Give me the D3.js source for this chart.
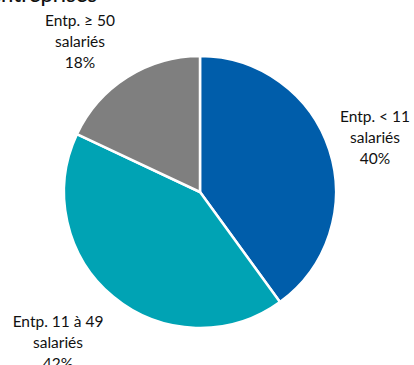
<!DOCTYPE html>
<html>
<head>
<meta charset="utf-8">
<script src="https://cdn.jsdelivr.net/npm/d3@7/dist/d3.min.js"></script>
<style>
  html, body { margin: 0; padding: 0; background: #fff; overflow: hidden; }
  svg { display: block; }
  text { font-family: Lato, "Open Sans", sans-serif; fill: #111; }
</style>
</head>
<body>
<svg id="chart" width="414" height="365"></svg>
<script>
// Répartition par taille d'entreprise
const categories = ["Entp. < 11", "Entp. 11 à 49", "Entp. ≥ 50"];
const values = [40, 42, 18];
const colors = ["#005DAA", "#00A3B4", "#7F7F7F"];
const labelSuffix = "salariés";
// label anchor points (centre of the three-line block)
const labelPos = [[375, 137], [58, 342], [80, 41]];

const W = 414, H = 365;
const svg = d3.select("#chart");

// Title, partially above the visible area
svg.append("text")
  .attr("x", 97).attr("y", 1.5)
  .attr("text-anchor", "end")
  .style("font-size", "22px")
  .style("font-weight", "500")
  .text("Répartition des entreprises");

const cx = 200, cy = 192, r = 136;
const pie = d3.pie().sort(null).value(d => d)(values);
const arc = d3.arc().innerRadius(0).outerRadius(r);

const g = svg.append("g").attr("transform", `translate(${cx},${cy})`);
g.selectAll("path").data(pie).join("path")
  .attr("d", arc)
  .attr("fill", (d, i) => colors[i])
  .attr("stroke", "#fff")
  .attr("stroke-width", 2.5)
  .attr("stroke-linejoin", "round");

const lh = 21;
categories.forEach((c, i) => {
  const [x, y] = labelPos[i];
  const lines = [c, labelSuffix, values[i] + "%"];
  const t = svg.append("text")
    .attr("text-anchor", "middle")
    .style("font-size", "15.5px");
  lines.forEach((s, k) => {
    t.append("tspan")
      .attr("x", x)
      .attr("y", y + (k - 1) * lh + 5.5)
      .text(s);
  });
});
</script>
</body>
</html>
